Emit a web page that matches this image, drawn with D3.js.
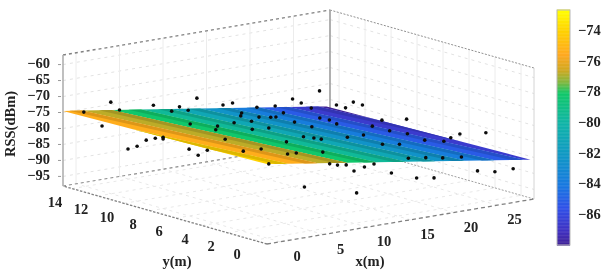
<!DOCTYPE html>
<html>
<head>
<meta charset="utf-8">
<script src="https://cdnjs.cloudflare.com/ajax/libs/d3/7.8.5/d3.min.js"></script>
<style>
  html, body { margin: 0; background: #fff; }
  svg { display: block; filter: blur(0.6px); }
  text { font-family: "Liberation Serif", serif; font-weight: bold; fill: #222; }
</style>
</head>
<body>
<div id="chart"></div>
<script>
const xTicks = [0, 5, 10, 15, 20, 25];
const yTicks = [0, 2, 4, 6, 8, 10, 12, 14];
const zTicks = [-95, -90, -85, -80, -75, -70, -65, -60];
const barTicks = [-74, -76, -78, -80, -82, -84, -86];

// corners of the fitted surface
const surfaceX = [-1.5, 28.8];
const surfaceY = [-1, 14.7];
const surfaceZ = [[-73, -74.5], [-85.5, -87]];

const colorStops = [-72.6, -74, -75.5, -76.5, -77.3, -78, -80, -82, -84, -85.5, -87, -88];
const colorValues = ['#ffff00', '#ffd000', '#ffa820', '#d0a820', '#80b840', '#10c868',
  '#10b4a8', '#1098c4', '#1878e0', '#3050e8', '#4030c0', '#402090'];

// measured points
const pointX = [2.8, 3.8, -0.3, 7.7, 10.1, 10.7,
  0.0, 0.0, 0.0, 0.0, 0.0, 0.0,
  0.0, 12.7, 15.7, 16.8, 11.7, 19.6,
  21.7, 21.3, 16.8, 15.5, 17.0, 18.2,
  18.8, 14.5, 11.9, 6.7, 8.8, 7.1,
  11.3, 13.5, 4.3, 9.7, 4.1, 1.3,
  4.9, 0.0, 0.0, 0.0, -0.1, 26.8,
  23.7, 24.7, 27.7, 27.7, 27.7, 27.7,
  26.3, 23.1, 23.3, 18.7, 22.5, 27.7,
  25.4, 25.3, 18.6, 20.8, 18.2, 13.6,
  14.2, 14.6, 19.1, 20.9, 9.4, 6.2,
  6.9, 7.8, 8.8, 12.0, 27.7, 27.7,
  27.7, 27.7, 26.0, 25.3, 26.9, 22.2,
  19.9, 18.1, 16.1, 14.0, 16.9, 18.9,
  23.9, 25.9, 28.0, 9.7, 10.9, 4.0,
  10.0];
const pointY = [13.9, 13.9, 13.9, 13.9, 14.1, 13.9,
  12.7, 9.3, 8.6, 8.0, 8.0, 10.0,
  10.7, 13.9, 13.9, 13.9, 13.9, 13.9,
  13.9, 13.0, 13.2, 12.4, 12.0, 11.9,
  11.9, 10.9, 10.5, 10.4, 9.7, 8.7,
  8.7, 8.9, 6.1, 5.0, 3.2, 2.7,
  1.7, 6.0, 4.6, 5.3, -0.2, 13.9,
  13.9, 13.9, 11.9, 13.2, 12.5, 11.2,
  14.2, 11.4, 10.8, 10.4, 9.7, 9.7,
  8.9, 7.5, 9.0, 6.5, 6.0, 6.3,
  5.9, 5.6, 3.9, 3.8, 2.0, 1.9,
  -0.2, -0.2, -0.2, -0.2, 7.8, 3.7,
  1.7, 4.4, 6.6, 4.8, 4.4, -0.1,
  -0.2, -0.1, -0.1, -0.2, -0.2, -0.2,
  -0.2, -0.2, -0.2, -0.2, -0.2, -0.2,
  -0.2];
const pointZ = [-72.8, -75.7, -74.5, -76.0, -79.2, -77.9,
  -77.6, -78.1, -76.7, -75.7, -76.2, -80.8,
  -82.5, -76.1, -79.6, -79.5, -79.4, -82.1,
  -82.7, -83.6, -81.8, -81.2, -81.8, -82.3,
  -82.5, -80.7, -79.5, -77.4, -78.2, -77.4,
  -79.2, -80.0, -76.1, -78.1, -75.7, -74.5,
  -75.9, -77.1, -75.8, -78.2, -74.5, -80.3,
  -81.4, -83.1, -81.9, -84.3, -84.4, -82.0,
  -85.8, -84.2, -84.2, -82.3, -83.8, -85.0,
  -84.9, -84.7, -82.1, -82.8, -81.7, -79.8,
  -80.0, -80.2, -81.9, -82.6, -77.7, -76.4,
  -77.7, -78.5, -78.9, -80.1, -82.5, -82.4,
  -79.7, -84.4, -84.9, -84.5, -85.1, -82.7,
  -81.8, -81.0, -80.3, -83.8, -86.7, -87.6,
  -87.7, -88.9, -88.9, -81.2, -80.5, -83.6,
  -88.2];

const width = 609;
const height = 276;
const xRange = [-1.5, 29.2];
const yRange = [-1, 14.7];
const zRange = [-98, -57];
const bandStep = 1.4;
const seamWidth = 0.6;
const surfaceShift = 0.6;

const xT = d3.scaleLinear().domain(xRange).range([0, 1]);
const yT = d3.scaleLinear().domain(yRange).range([0, 1]);
const zP = d3.scaleLinear().domain(zRange).range([0, 131]);
const color = d3.scaleLinear().domain(colorStops).range(colorValues).clamp(true);

const project = (x, y, z) => [
  267 + 267 * xT(x) - 204 * yT(y),
  244 - 45 * xT(x) - 58 * yT(y) - zP(z)
];

const svg = d3.select('#chart').append('svg').attr('width', width).attr('height', height);
const line = d3.line();
const closedLine = d3.line().curve(d3.curveLinearClosed);

const draw = (a, b, stroke, w, dash) => svg.append('path')
  .attr('d', line([project(...a), project(...b)]))
  .attr('fill', 'none').attr('stroke', stroke).attr('stroke-width', w)
  .attr('stroke-dasharray', dash || null);

const [x0, x1] = xRange, [y0, y1] = yRange, [z0, z1] = zRange;
const lightDash = '3 4';

// walls and floor grid
zTicks.forEach(z => {
  draw([x0, y1, z], [x1, y1, z], '#e2e2e2', 1, lightDash);
  draw([x1, y1, z], [x1, y0, z], '#e2e2e2', 1, lightDash);
});
xTicks.forEach(x => {
  draw([x, y1, z0], [x, y1, z1], '#ececec', 1);
  draw([x, y0, z0], [x, y1, z0], '#e8e8e8', 1, lightDash);
});
yTicks.forEach(y => {
  draw([x1, y, z0], [x1, y, z1], '#ececec', 1);
  draw([x0, y, z0], [x1, y, z0], '#e8e8e8', 1, lightDash);
});

// box edges
draw([x0, y1, z1], [x1, y1, z1], '#808080', 1.3, '3 3');
draw([x1, y1, z1], [x1, y0, z1], '#909090', 1, '2 1.5');
draw([x0, y1, z0], [x1, y1, z0], '#8c8c8c', 1.2, '3 3');
draw([x1, y1, z0], [x1, y0, z0], '#a0a0a0', 1, '2 1.5');
draw([x0, y0, z0], [x0, y1, z0], '#808080', 1.3, '2.5 1.5');
draw([x0, y0, z0], [x1, y0, z0], '#808080', 1.3, '4 3');
draw([x0, y1, z0], [x0, y1, z1], '#b0b0b0', 1.6);
draw([x1, y1, z0], [x1, y1, z1], '#a8a8a8', 1.8);
draw([x1, y0, z0], [x1, y0, z1], '#d4d4d4', 1);

// surface split into bands along z
const corners = [
  [surfaceX[0], surfaceY[0], surfaceZ[0][0]],
  [surfaceX[1], surfaceY[0], surfaceZ[1][0]],
  [surfaceX[1], surfaceY[1], surfaceZ[1][1]],
  [surfaceX[0], surfaceY[1], surfaceZ[0][1]]
];
const clip = (poly, keep) => {
  const out = [];
  poly.forEach((p, i) => {
    const q = poly[(i + 1) % poly.length];
    const dp = keep(p[2]), dq = keep(q[2]);
    if (dp >= 0) out.push(p);
    if (dp * dq < 0) {
      const t = dp / (dp - dq);
      out.push(p.map((v, k) => v + (q[k] - v) * t));
    }
  });
  return out;
};
const slice = (lo, hi) => clip(clip(corners, z => z - lo), z => hi - z);
const bandPolys = d3.range(-88, -72, bandStep)
  .map(lo => ({ lo, mid: lo + bandStep / 2, poly: slice(lo, lo + bandStep) }))
  .filter(d => d.poly.length > 2);
svg.selectAll('path.band').data(bandPolys).join('path').attr('class', 'band')
  .attr('d', d => closedLine(d.poly.map(p => project(...p))))
  .attr('fill', d => color(d.mid - surfaceShift));
// darker stripe in each band
svg.selectAll('path.seam').data(bandPolys).join('path').attr('class', 'seam')
  .attr('d', d => closedLine(slice(d.lo, d.lo + seamWidth).map(p => project(...p))))
  .attr('fill', d => d3.color(color(d.mid - surfaceShift)).darker(0.4));

// points
const points = pointX.map((x, i) => project(x, pointY[i], pointZ[i]));
svg.selectAll('circle').data(points).join('circle')
  .attr('cx', d => d[0]).attr('cy', d => d[1])
  .attr('r', 1.8).attr('fill', '#0c0c0c');

// tick labels
const fmt = v => String(v).replace('-', '\u2212');
const labelSize = 14.5;
svg.selectAll('text.z').data(zTicks).join('text').attr('class', 'z')
  .attr('x', d => project(x0, y1, d)[0] - 13).attr('y', d => project(x0, y1, d)[1])
  .attr('text-anchor', 'end').attr('dominant-baseline', 'middle').attr('font-size', labelSize).text(fmt);
zTicks.forEach(z => {
  const [px, py] = project(x0, y1, z);
  svg.append('line').attr('x1', px - 5).attr('x2', px - 2).attr('y1', py).attr('y2', py).attr('stroke', '#999');
});
svg.selectAll('text.x').data(xTicks).join('text').attr('class', 'x')
  .attr('x', d => project(d, y0, z0)[0] + 17).attr('y', d => project(d, y0, z0)[1] + 16)
  .attr('text-anchor', 'middle').attr('dominant-baseline', 'middle').attr('font-size', labelSize).text(fmt);
svg.selectAll('text.y').data(yTicks).join('text').attr('class', 'y')
  .attr('x', d => project(x0, d, z0)[0] - 17).attr('y', d => project(x0, d, z0)[1] + 15)
  .attr('text-anchor', 'middle').attr('dominant-baseline', 'middle').attr('font-size', labelSize).text(fmt);

svg.append('text').attr('transform', 'translate(12,124) rotate(-90)')
  .attr('text-anchor', 'middle').attr('dominant-baseline', 'middle').attr('font-size', labelSize).text('RSS(dBm)');
svg.append('text').attr('x', 177).attr('y', 263).attr('text-anchor', 'middle')
  .attr('dominant-baseline', 'middle').attr('font-size', labelSize).text('y(m)');
svg.append('text').attr('x', 370).attr('y', 263).attr('text-anchor', 'middle')
  .attr('dominant-baseline', 'middle').attr('font-size', labelSize).text('x(m)');

// colour bar
const barY = d3.scaleLinear().domain([-72.6, -87.9]).range([10, 245]);
svg.selectAll('rect.bar').data(d3.range(-87.9, -72.6, 0.05)).join('rect').attr('class', 'bar')
  .attr('x', 557).attr('width', 13).attr('y', d => barY(d) - 0.5).attr('height', 1.2)
  .attr('fill', d => color(d));
svg.append('rect').attr('x', 557).attr('y', 10).attr('width', 13).attr('height', 235)
  .attr('fill', 'none').attr('stroke', '#b8b8b8');
svg.selectAll('text.bar').data(barTicks).join('text').attr('class', 'bar')
  .attr('x', 578).attr('y', d => barY(d)).attr('dominant-baseline', 'middle')
  .attr('font-size', labelSize).text(fmt);
</script>
</body>
</html>
